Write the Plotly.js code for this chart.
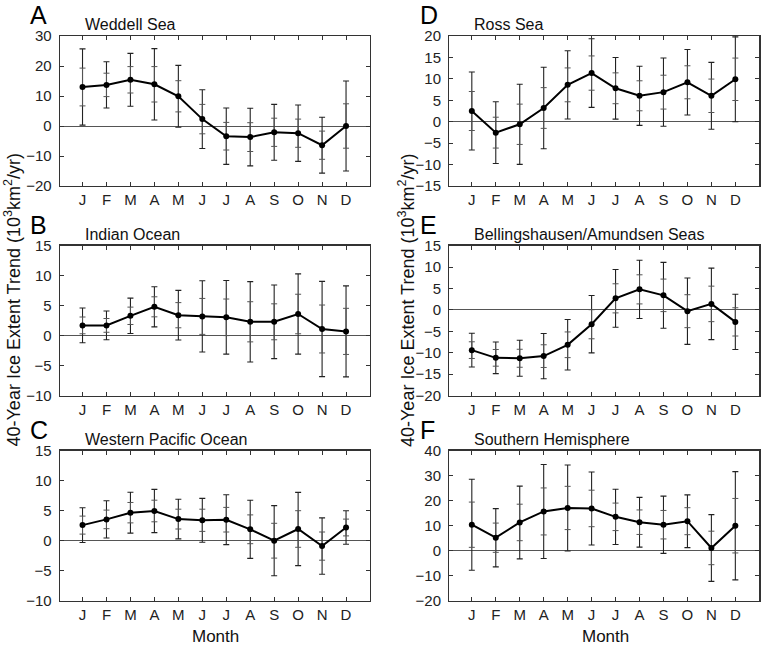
<!DOCTYPE html>
<html>
<head>
<meta charset="utf-8">
<script src="https://cdn.plot.ly/plotly-3.0.1.min.js"></script>
<style>html,body{margin:0;padding:0;background:#fff;}#chart{width:762px;height:653px;}</style>
</head>
<body>
<div id="chart"></div>
<script>
// Months
const months = ["J","F","M","A","M","J","J","A","S","O","N","D"];
const monthIdx = [1,2,3,4,5,6,7,8,9,10,11,12];

// A Weddell Sea
const weddellVal   = [13.0, 13.7, 15.4, 13.9, 9.9, 2.3, -3.4, -3.7, -2.1, -2.4, -6.4, 0.0];
const weddellOuter = [12.7, 7.7, 8.8, 11.9, 10.3, 9.8, 9.4, 9.6, 9.3, 9.4, 9.3, 15.0];
const weddellInner = [6.3, 3.9, 4.4, 5.9, 5.2, 4.9, 4.6, 4.8, 4.7, 4.7, 4.7, 7.4];

// B Indian Ocean
const indianVal   = [1.7, 1.7, 3.3, 4.8, 3.4, 3.2, 3.05, 2.3, 2.3, 3.6, 1.1, 0.7];
const indianOuter = [2.9, 2.4, 2.95, 3.35, 4.15, 5.95, 6.15, 6.7, 6.15, 6.7, 7.95, 7.6];
const indianInner = [1.4, 1.15, 1.45, 1.67, 2.1, 3.0, 3.05, 3.35, 3.0, 3.3, 4.0, 3.85];

// C Western Pacific Ocean
const wpacVal   = [2.6, 3.55, 4.67, 4.95, 3.6, 3.4, 3.5, 1.9, 0.0, 1.95, -0.9, 2.2];
const wpacOuter = [2.9, 3.1, 3.4, 3.6, 3.3, 3.65, 4.15, 4.85, 5.85, 6.1, 4.7, 2.8];
const wpacInner = [1.5, 1.55, 1.7, 1.8, 1.65, 1.85, 2.05, 2.4, 2.9, 3.05, 2.35, 1.4];

// D Ross Sea
const rossVal   = [2.5, -2.55, -0.6, 3.2, 8.6, 11.35, 7.8, 6.05, 6.9, 9.2, 6.05, 9.9];
const rossOuter = [9.1, 7.2, 9.35, 9.5, 7.95, 8.0, 7.2, 6.9, 7.95, 7.65, 7.8, 9.9];
const rossInner = [4.55, 3.6, 4.7, 4.75, 3.95, 4.0, 3.6, 3.5, 3.95, 3.85, 3.9, 4.95];

// E Bellingshausen/Amundsen Seas
const bellVal   = [-9.4, -11.2, -11.3, -10.8, -8.15, -3.35, 2.7, 4.8, 3.4, -0.3, 1.4, -2.8];
const bellOuter = [3.95, 3.7, 4.2, 5.3, 5.9, 6.7, 6.75, 6.8, 7.7, 7.75, 8.35, 6.45];
const bellInner = [1.95, 1.95, 2.1, 2.65, 3.0, 3.4, 3.4, 3.4, 3.8, 3.85, 4.15, 3.3];

// F Southern Hemisphere
const shVal   = [10.4, 5.2, 11.3, 15.7, 17.1, 16.9, 13.55, 11.4, 10.4, 11.8, 1.1, 10.0];
const shOuter = [18.2, 11.65, 14.55, 18.8, 17.2, 14.6, 11.05, 9.95, 11.45, 10.55, 13.35, 21.65];
const shInner = [9.05, 5.85, 7.3, 9.4, 8.65, 7.3, 5.5, 4.9, 5.7, 5.4, 6.7, 10.9];

const panelLetters = ["A","B","C","D","E","F"];
const panelTitles = ["Weddell Sea","Indian Ocean","Western Pacific Ocean","Ross Sea","Bellingshausen/Amundsen Seas","Southern Hemisphere"];
const yRanges = [[-20,30],[-10,15],[-10,15],[-15,20],[-20,15],[-20,40]];
const yDticks = [10,5,5,5,5,10];

const panels = [
  [weddellVal, weddellOuter, weddellInner],
  [indianVal, indianOuter, indianInner],
  [wpacVal, wpacOuter, wpacInner],
  [rossVal, rossOuter, rossInner],
  [bellVal, bellOuter, bellInner],
  [shVal, shOuter, shInner]
];

const W = 762, H = 653;
const FONT = "Liberation Sans, Arial, Helvetica, sans-serif";
// pixel boxes: [left,right], [top,bottom]
const colX = [[60,370],[449.3,759.3]];
const rowY = [[36,186],[245.7,395.5],[450.7,600.7]];

const data = [];
const layout = {
  width: W, height: H,
  margin: {l:0,r:0,t:0,b:0},
  paper_bgcolor: "#fff", plot_bgcolor: "#fff",
  showlegend: false,
  font: {family: FONT, size: 15, color: "#222"},
  annotations: []
};

panels.forEach((p, i) => {
  const col = i < 3 ? 0 : 1;
  const row = i % 3;
  const n = i + 1;
  const xa = n === 1 ? "x" : "x" + n;
  const ya = n === 1 ? "y" : "y" + n;
  const xk = n === 1 ? "xaxis" : "xaxis" + n;
  const yk = n === 1 ? "yaxis" : "yaxis" + n;
  const [vals, outer, inner] = p;

  data.push({
    x: monthIdx, y: vals, xaxis: xa, yaxis: ya, type: "scatter", mode: "markers",
    marker: {size: 1, color: "rgba(0,0,0,0)"},
    error_y: {type: "data", array: outer, visible: true, color: "#222", thickness: 1.1, width: 3},
    hoverinfo: "skip"
  });
  data.push({
    x: monthIdx, y: vals, xaxis: xa, yaxis: ya, type: "scatter", mode: "markers",
    marker: {size: 1, color: "rgba(0,0,0,0)"},
    error_y: {type: "data", array: inner, visible: true, color: "#555", thickness: 1, width: 3},
    hoverinfo: "skip"
  });
  data.push({
    x: monthIdx, y: vals, xaxis: xa, yaxis: ya, type: "scatter", mode: "lines+markers",
    line: {color: "#000", width: 2},
    marker: {color: "#000", size: 6}
  });

  const xd = [colX[col][0]/W, colX[col][1]/W];
  const yd = [(H - rowY[row][1])/H, (H - rowY[row][0])/H];
  layout[xk] = {
    domain: xd, range: [0.06, 13], anchor: ya,
    tickmode: "array", tickvals: monthIdx, ticktext: months,
    ticks: "inside", ticklen: 4, tickcolor: "#333", tickwidth: 1,
    showline: true, linecolor: "#333", linewidth: 1.3, mirror: "ticks",
    showgrid: false, zeroline: false, fixedrange: true,
    tickfont: {size: 15, family: FONT, color: "#222"}
  };
  layout[yk] = {
    domain: yd, range: yRanges[i], anchor: xa,
    dtick: yDticks[i], tick0: 0,
    ticks: "inside", ticklen: 4, tickcolor: "#333", tickwidth: 1,
    showline: true, linecolor: "#333", linewidth: 1.3, mirror: "ticks",
    showgrid: false, zeroline: true, zerolinecolor: "#555", zerolinewidth: 1,
    fixedrange: true, ticklabelstandoff: 4,
    tickfont: {size: 15, family: FONT, color: "#222"}
  };

  // panel letter
  layout.annotations.push({
    xref: "paper", yref: "paper",
    x: (col === 0 ? 28 : 418)/W, y: (H - (rowY[row][0] - 37))/H,
    xanchor: "left", yanchor: "top", showarrow: false,
    text: panelLetters[i], font: {size: 25, family: FONT, color: "#000"}
  });
  // panel title
  layout.annotations.push({
    xref: "paper", yref: "paper",
    x: (col === 0 ? 83 : 472)/W, y: (H - rowY[row][0] + 1)/H,
    xanchor: "left", yanchor: "bottom", showarrow: false,
    text: panelTitles[i], font: {size: 16, family: FONT, color: "#111"}
  });
});

const yTitle = "40-Year Ice Extent Trend (10<sup>3</sup>km<sup>2</sup>/yr)";
[12.5, 406].forEach(px => {
  layout.annotations.push({
    xref: "paper", yref: "paper", x: px/W, y: (H - 300)/H,
    xanchor: "center", yanchor: "middle", showarrow: false, textangle: -90,
    text: yTitle, font: {size: 18, family: FONT, color: "#111"}
  });
});
[215, 605].forEach(px => {
  layout.annotations.push({
    xref: "paper", yref: "paper", x: px/W, y: (H - 636)/H,
    xanchor: "center", yanchor: "middle", showarrow: false,
    text: "Month", font: {size: 17, family: FONT, color: "#111"}
  });
});

Plotly.newPlot("chart", data, layout, {staticPlot: true, displayModeBar: false});
</script>
</body>
</html>
